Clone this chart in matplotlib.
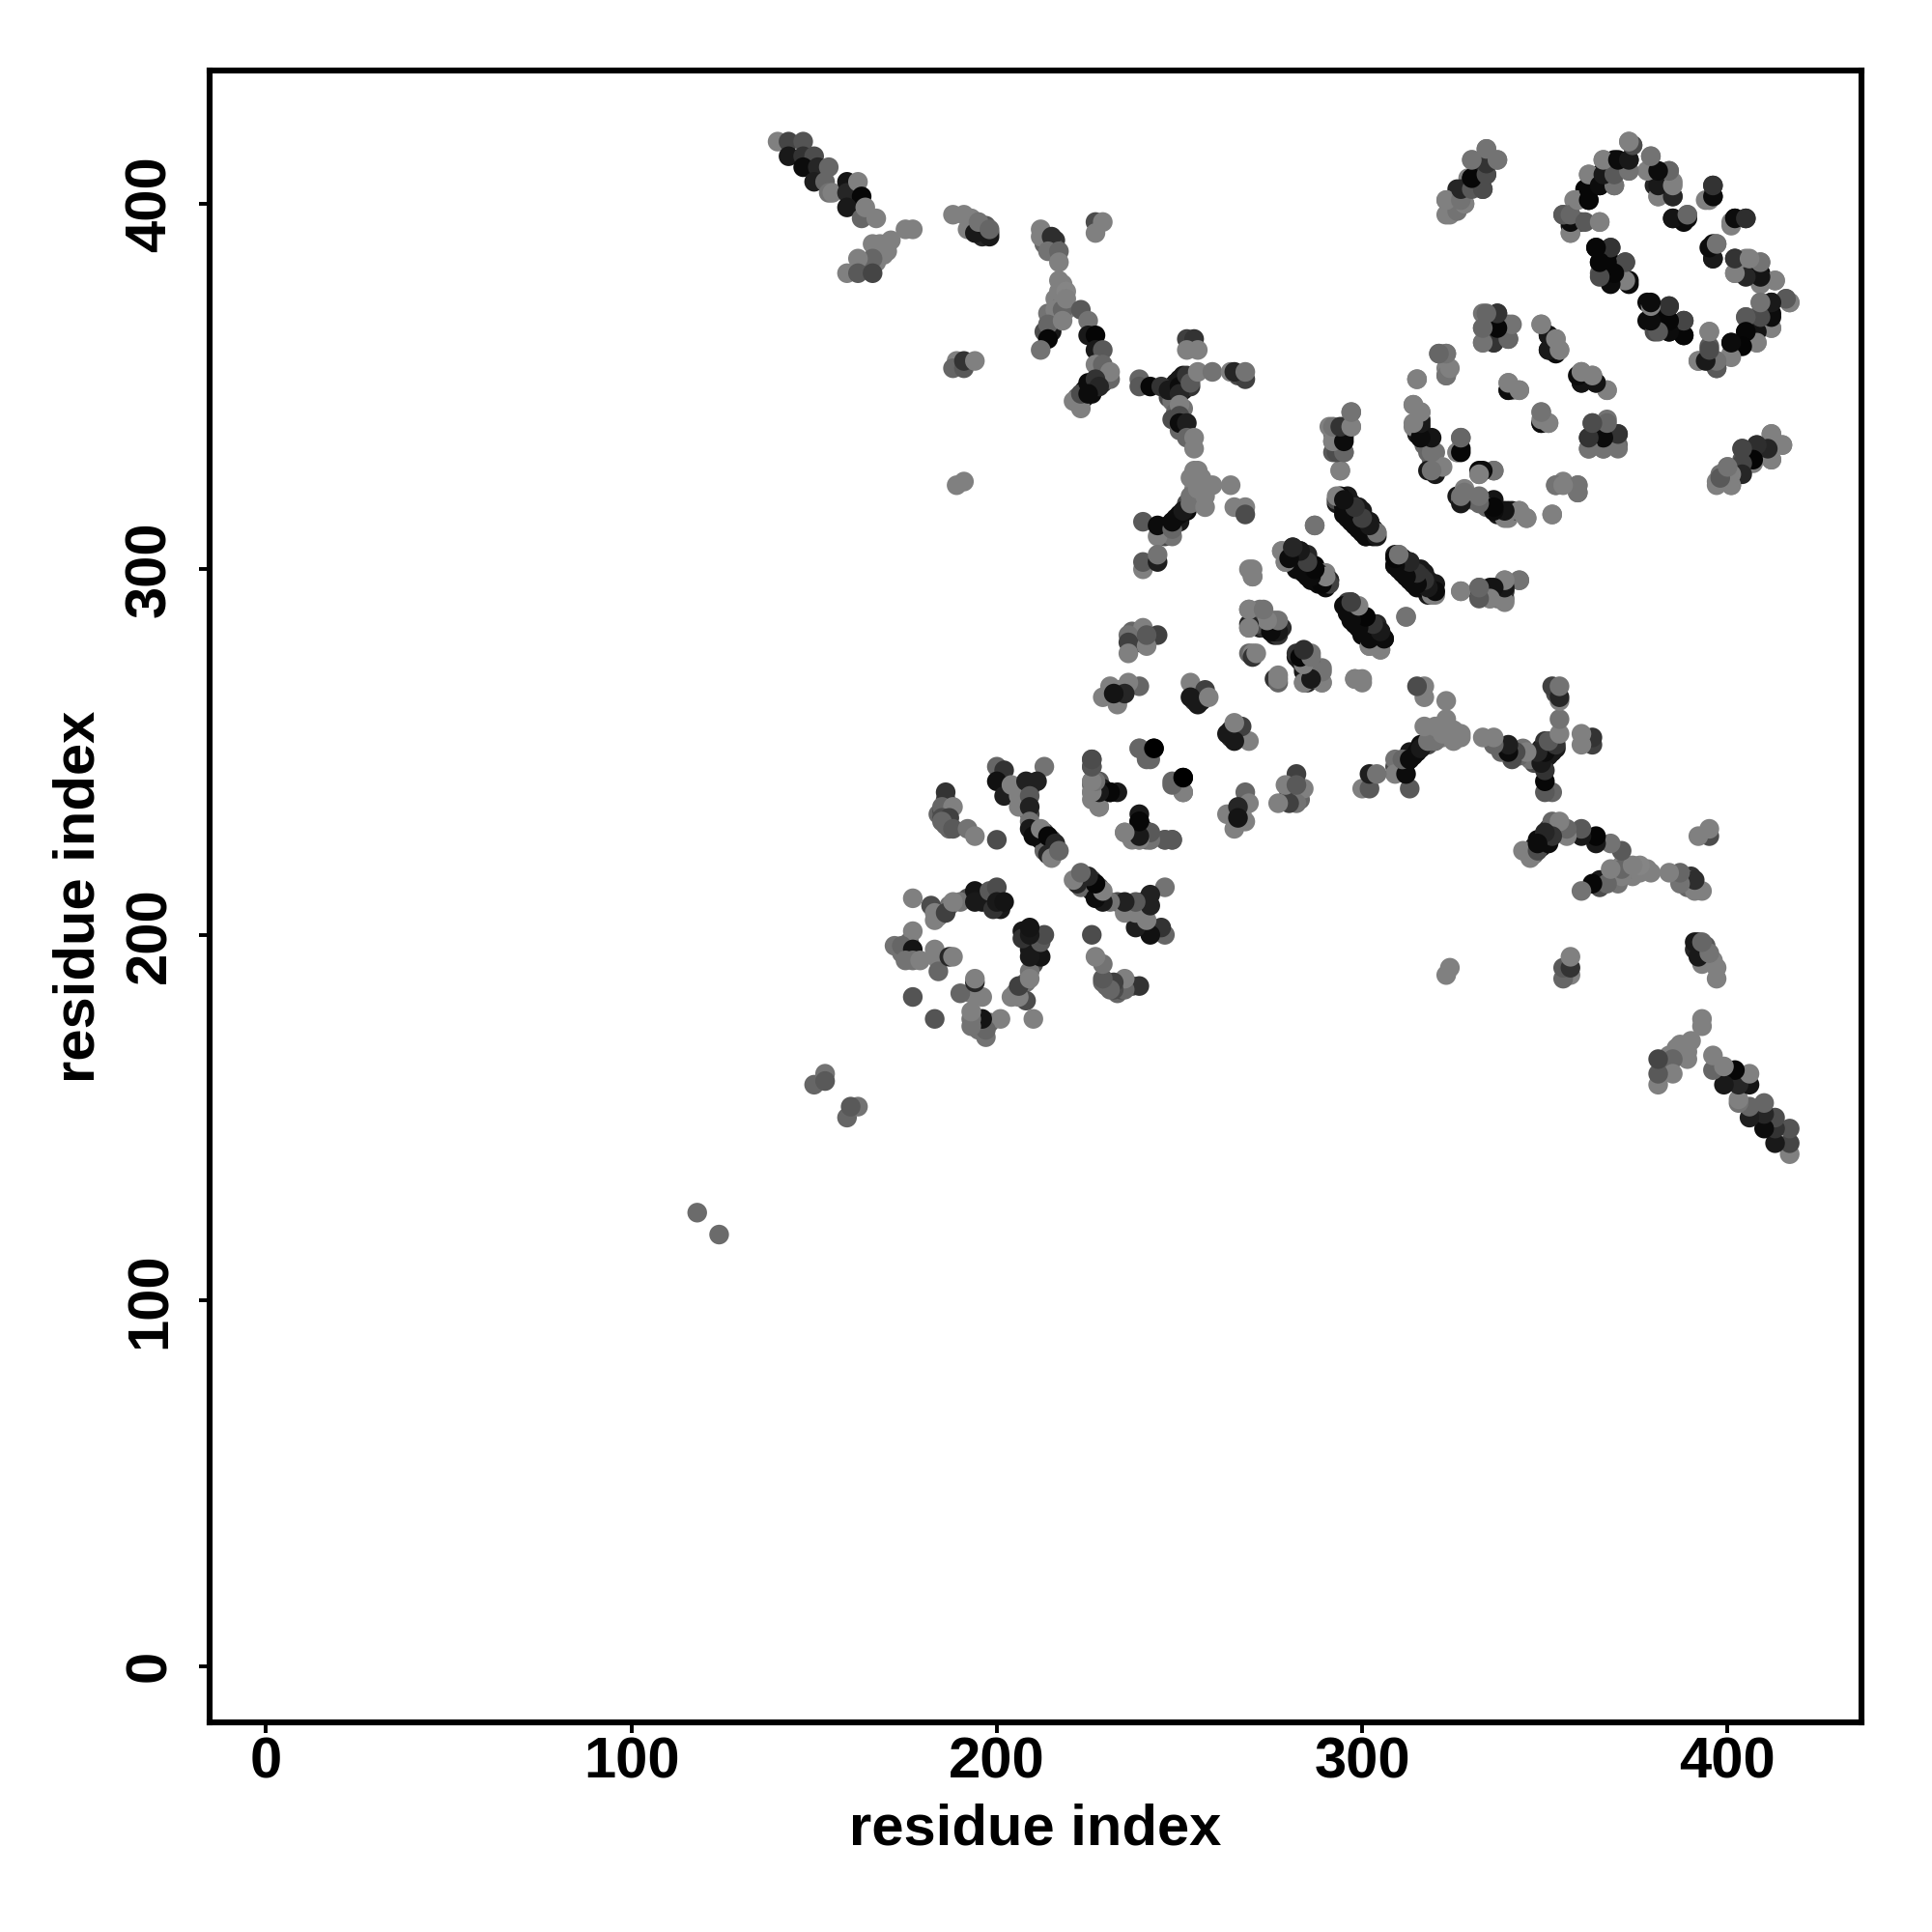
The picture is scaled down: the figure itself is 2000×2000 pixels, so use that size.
import numpy as np
import matplotlib
matplotlib.use("Agg")
import matplotlib.pyplot as plt

# contacts as (residue i, residue j, grey level), upper half of the map only
far_pairs = [(118,124,.42),(150,159,.4),(153,162,.45),(153,160,.35)]
# contacts mostly hidden under the others in the dense streaks
under_streaks = [(224,349,.05),(226,350,.1),(226,348,.05),(228,352,.1),(229,351,.2),(224,347,.1),(222,347,.4),(230,353,.3),
                 (247,347,.3),(248,350,.1),(249,351,.1),(251,353,.1),(251,349,.05),(252,351,.1),(253,350,.2),(248,346,.45),
                 (249,343,.4),(248,341,.3),(250,338,.4),(251,344,.45),(245,310,.1),(246,311,.05),(247,312,.05),(249,314,.08),
                 (250,313,.1),(252,316,.05),(252,318,.3),(254,319,.4),(254,322,.5),(246,309,.3),(248,309,.45),(253,320,.45),
                 (255,319,.5),(256,323,.5),(253,325,.5),(255,327,.5)]
under_helices = [(293,318,.1),(295,316,.05),(297,314,.05),(297,318,.15),(299,313,.05),(299,317,.1),(300,311,.05),(300,315,.1),
                 (301,313,.05),(303,311,.05),(302,310,.1),(296,320,.1),(298,316,.2),(280,303,.05),(280,305,.1),(282,304,.05),
                 (282,300,.05),(284,302,.05),(285,298,.05),(285,301,.1),(287,298,.05),(288,299,.05),(288,296,.05),(290,295,.05),
                 (283,302,.05),(310,300,.05),(311,299,.05),(311,303,.1),(313,300,.05),(313,302,.1),(315,298,.05),(316,296,.05),
                 (316,300,.1),(318,294,.1),(318,297,.1),(319,293,.3),(314,296,.1),(317,295,.05),(297,288,.05),(297,291,.15),
                 (299,285,.05),(299,288,.1),(301,285,.05),(302,281,.05),(303,283,.1),(304,281,.05),(304,279,.2),(304,285,.15),
                 (305,280,.1)]
under_blocks = [(198,209,.2),(199,211,.15),(201,207,.1),(196,211,.15),(192,210,.3),(196,209,.1),(184,205,.45),(187,208,.45),
                (183,204,.5),(190,209,.45),(177,195,.2),(175,195,.3),(176,198,.4),(174,195,.45),(209,233,.3),(209,240,.3),
                (210,229,.1),(211,228,.05),(212,226,.1),(213,225,.05),(215,224,.1),(215,226,.3),(213,228,.3),(213,223,.4),
                (184,233,.4),(186,230,.4),(186,233,.3),(187,229,.4),(186,237,.3),(185,234,.3),(227,241,.4),(226,237,.5),
                (240,229,.1),(239,233,.1),(241,226,.4),(237,280,.3),(238,281,.3),(237,283,.4),(239,280,.25),(234,267,.2),
                (233,265,.3),(254,266,.2),(255,266,.4),(256,264,.1),(254,264,.2),(233,267,.5),(266,353,.3)]
under_top = [(216,374,.5),(218,373,.45),(215,369,.45),(216,368,.5),(217,369,.4),(219,371,.5),(217,376,.5),(218,378,.5),
             (214,370,.45),(215,365,.1),(213,365,.3),(213,389,.4),(216,390,.2),(215,389,.45),(193,396,.5),(194,394,.3),
             (196,392,.3),(197,394,.35),(196,391,.15),(198,392,.2),(270,287,.4),(271,285,.4),(272,284,.1),(274,286,.4),
             (275,283,.2),(276,282,.1),(277,282,.2),(284,273,.2),(285,271,.3),(286,270,.3),(288,271,.45),(287,271,.4),
             (292,337,.45),(293,338,.4),(294,334,.3),(293,332,.2),(294,337,.1),(167,388,.5),(168,389,.5),(170,387,.5),
             (165,383,.4),(167,384,.5),(315,337,.1),(316,341,.1),(317,334,.4),(319,330,.4),(319,328,.2)]
strand_a = [(140,417,.5),(143,417,.27),(147,417,.33),(143,413,.1),(147,413,.2),(150,413,.3),(147,410,.05),(151,410,.15),
            (154,410,.4),(150,406,.12),(153,406,.4),(154,403,.45),(155,403,.5),(159,406,.08),(159,403,.15),(162,406,.5),
            (163,402,.03),(159,399,.1),(163,396,.4),(164,399,.5),(167,396,.5),(175,393,.5),(177,393,.5)]
strand_b = [(171,390,.5),(169,386,.5),(166,389,.5),(166,385,.4),(162,385,.5),(159,381,.5),(162,381,.35),(166,381,.27)]
cluster_d = [(188,397,.5),(191,397,.5),(192,393,.5),(194,392,.1),(195,395,.45),(198,391,.1),(198,393,.4),(189,357,.5),
             (188,355,.4),(191,355,.35),(191,357,.2),(194,357,.5),(189,323,.5),(191,324,.5)]
cluster_e = [(212,393,.5),(212,391,.5),(215,391,.18),(214,387,.45),(217,387,.4),(217,384,.5),(217,379,.5),(216,371,.5),
             (218,371,.4),(214,367,.4),(214,363,.03),(212,360,.45),(218,368,.5),(219,376,.52),(219,374,.5)]
cluster_f = [(223,371,.35),(225,368,.45),(225,364,.1),(227,364,.02),(227,360,.1),(229,360,.35),(227,356,.5),(229,356,.4),
             (231,352,.4),(231,354,.5),(221,346,.5),(223,344,.5),(223,348,.3),(225,351,.05),(227,352,.2),(228,350,.15),
             (225,348,.05),(227,395,.3),(227,392,.5),(229,395,.5)]
cluster_j = [(239,352,.4),(239,350,.35),(242,350,.03),(245,350,.2),(247,349,.1),(250,352,.1),(250,350,.05),(250,348,.15),
             (252,353,.2),(253,351,.35),(255,354,.5),(259,354,.45),(252,363,.25),(254,363,.2),(252,360,.5),(255,360,.5),
             (250,345,.5),(250,342,.3),(250,340,.05),(252,340,.12),(252,336,.4),(254,336,.5),(254,333,.5),
             (264,354,.5),(268,352,.25),(265,354,.15),(268,354,.45)]
cluster_l = [(240,313,.35),(244,309,.5),(244,312,.05),(248,311,.4),(248,313,.05),(250,315,.05),(251,316,.1),(253,318,.45),
             (254,327,.5),(256,325,.5),(259,323,.5),(264,323,.5),(255,322,.5),(257,320,.5),(257,317,.5),(265,317,.5),
             (268,317,.5),(268,315,.3),(240,300,.5),(240,302,.35),(244,302,.12),(244,304,.45)]
cluster_m = [(240,284,.5),(244,282,.25),(236,282,.45),(236,280,.25),(241,279,.5),(241,282,.35),(236,277,.5),(239,268,.4),
             (236,269,.5),(231,268,.5),(229,265,.5),(233,263,.5),(235,266,.15),(232,266,.08),(253,269,.5),(257,267,.25),
             (253,265,.1),(255,263,.1),(258,265,.5)]
helix_295 = [(294,327,.5),(297,343,.45),(291,339,.5),(295,339,.1),(297,339,.5),(295,336,.08),(292,335,.5),(292,332,.35),(295,332,.4),
             (293,319,.5),(294,320,.05),(295,318,.1),(297,317,.2),(296,315,.05),(299,315,.2),(298,312,.05),(302,313,.15),
             (301,309,.05),(303,309,.03),(304,310,.45),(287,312,.45)]
helix_281 = [(278,305,.5),(279,302,.5),(281,306,.05),(281,302,.05),(283,305,.1),(285,303,.2),(284,299,.05),(287,301,.02),
             (286,297,.05),(289,296,.05),(290,299,.5),(291,297,.25)]
helix_310 = [(309,301,.05),(309,304,.1),(310,304,.45),(312,302,.1),(313,297,.05),(314,300,.25),(315,295,.05),(317,298,.2),
             (320,293,.5),(319,295,.07)]
helix_296 = [(296,291,.25),(296,289,.03),(298,290,.5),(298,286,.05),(300,287,.03),(301,283,.05),(302,285,.25),(305,283,.1),
             (302,279,.5),(305,278,.5),(303,280,.05),(306,281,.15),(312,287,.45)]
cluster_269 = [(269,300,.5),(270,298,.5),(269,289,.5),(272,289,.45),(269,284,.5),(270,286,.1),(274,284,.5),(276,283,.03),
               (276,286,.45),(278,284,.18),(269,277,.4),(270,277,.5),(283,277,.1),(283,275,.05),(286,277,.45),(286,274,.5),
               (285,269,.15),(284,269,.5),(289,269,.5),(289,273,.45),(276,270,.2),(277,271,.5),(298,270,.5),(300,270,.5)]
ring_a = [(315,352,.5),(321,359,.45),(323,359,.45),(323,353,.45),(323,355,.5),(314,345,.5),(316,343,.5),(314,339,.5),
          (316,339,.08),(316,336,.05),(317,336,.03),(318,332,.4),(320,332,.45),(318,327,.1),(320,327,.45),(321,328,.45),
          (327,336,.45),(327,333,.05),(326,332,.5),(332,326,.5),(332,327,.03),(336,327,.4),(326,320,.1),(328,322,.5),
          (327,319,.45),(332,319,.45),(336,319,.08),(336,316,.05),(340,316,.1),(340,314,.5),(343,316,.5),(345,314,.5),
          (352,315,.5),(353,323,.45),(355,324,.5),(359,323,.45),(359,321,.4)]
ring_b = [(333,370,.45),(337,370,.2),(333,366,.45),(336,366,.05),(340,367,.4),(333,362,.45),(336,362,.2),(340,363,.3),
          (349,367,.5),(351,364,.08),(351,360,.08),(353,359,.05),(353,363,.5),(354,360,.5),(360,351,.1),(360,354,.5),
          (364,351,.1),(363,353,.5),(367,349,.5),(340,349,.05),(340,351,.5),(341,349,.5),(343,349,.45),(349,340,.05),
          (349,343,.5),(351,340,.5),(362,336,.2),(363,340,.4),(367,341,.45),(362,333,.45),(366,337,.03),(370,337,.2),
          (366,333,.4),(370,334,.4),(327,294,.5),(332,293,.3),(332,295,.4),(335,292,.5),(335,295,.05),(339,292,.45),
          (339,294,.2),(339,297,.5),(343,297,.45)]
cluster_323 = [(334,415,.5),(337,412,.5),(330,412,.5),(333,411,.15),(334,408,.18),(329,407,.5),(330,407,.02),(333,404,.27),
               (329,404,.27),(326,404,.15),(323,401,.5),(326,401,.5),(323,397,.5),(325,398,.35),(328,400,.45)]
ring_top = [(373,417,.5),(374,416,.35),(379,413,.5),(366,412,.5),(369,412,.05),(373,412,.1),(365,408,.08),(362,408,.5),
            (369,409,.3),(373,409,.45),(369,405,.35),(365,405,.03),(361,404,.02),(358,401,.5),(362,401,.05),(379,409,.5),
            (380,409,.08),(384,409,.45),(380,405,.15),(381,402,.5),(385,402,.2),(385,406,.5),(394,401,.5),(396,402,.05),
            (396,405,.18),(385,396,.1),(388,395,.05),(389,397,.45),(401,395,.5),(402,396,.05),(405,396,.2),(355,397,.35),
            (357,397,.45),(357,392,.5),(357,394,.1),(360,395,.3),(365,395,.5)]
ring_mid = [(364,388,.03),(368,388,.27),(365,384,.05),(368,384,.03),(372,384,.2),(365,381,.35),(368,379,.05),(372,379,.5),
            (373,379,.05),(396,385,.08),(396,389,.05),(397,389,.4),(402,381,.5),(402,385,.15),(405,381,.1),(405,385,.5),
            (409,384,.4),(409,378,.5),(409,381,.05),(413,379,.45)]
ring_low = [(378,373,.05),(379,372,.5),(384,372,.3),(378,368,.05),(381,369,.03),(384,367,.03),(388,368,.2),(380,365,.3),
            (384,365,.03),(388,364,.03),(392,357,.5),(395,357,.05),(397,355,.35),(397,357,.4),(395,361,.35),(395,365,.5),
            (401,359,.5),(401,362,.03),(404,362,.03),(408,362,.5),(405,365,.05),(405,369,.45),(408,366,.1),(408,369,.35),
            (409,373,.45),(412,366,.5),(412,370,.05),(412,373,.1),(416,374,.3),(417,373,.5)]
cluster_400 = [(397,324,.5),(398,326,.45),(401,323,.5),(400,328,.5),(401,327,.45),(404,327,.15),(404,330,.35),(404,333,.3),
               (407,330,.03),(408,334,.3),(411,334,.2),(412,330,.45),(412,337,.45),(415,334,.45)]
ring_200 = [(177,210,.5),(182,208,.3),(183,206,.5),(186,206,.25),(188,209,.5),(194,212,.08),(194,209,.1),(198,212,.35),
            (200,213,.3),(199,207,.2),(200,209,.1),(202,209,.08),(177,201,.5),(172,197,.45),(174,197,.4),(177,196,.08),
            (175,193,.45),(177,193,.45),(179,193,.5),(183,196,.5),(184,193,.5),(184,190,.4),(187,194,.15),(188,194,.5),
            (177,183,.33)]
block_235 = [(186,239,.2),(185,235,.4),(188,235,.5),(185,232,.3),(187,232,.25),(185,231,.4),(188,229,.35),(192,229,.45),
             (194,227,.5),(200,226,.3),(200,246,.4),(202,245,.2),(200,242,.07),(202,238,.12),(204,241,.5),(206,238,.5),
             (206,235,.5),(213,246,.45),(208,242,.13),(211,242,.13),(209,238,.35),(209,235,.13),(209,231,.45),(209,229,.1),
             (210,227,.05),(212,229,.5),(214,227,.03),(216,225,.15),(214,222,.15),(215,221,.5),(217,223,.4)]
block_226 = [(226,248,.35),(226,246,.35),(226,242,.45),(228,242,.35),(226,239,.5),(227,239,.1),(231,239,.03),(228,235,.5),
             (239,251,.5),(241,248,.4),(243,251,.0),(248,242,.4),(251,239,.4),(251,243,.0),(235,228,.5),(239,231,.03),
             (239,228,.1),(239,226,.5),(242,227,.45),(242,226,.5),(246,226,.33),(248,226,.3)]

x_ticks = [0, 100, 200, 300, 400]
y_ticks = [0, 100, 200, 300, 400]

contacts = np.array(far_pairs + under_streaks + under_helices + under_blocks + under_top
                    + strand_a + strand_b + cluster_d + cluster_e + cluster_f + cluster_j + cluster_l
                    + cluster_m + helix_295 + helix_281 + helix_310 + helix_296 + cluster_269 + ring_a + ring_b
                    + cluster_323 + ring_top + ring_mid + ring_low + cluster_400 + ring_200 + block_235 + block_226)

plt.rcParams['font.family'] = ['Liberation Sans', 'DejaVu Sans']
plt.rcParams['font.weight'] = 'bold'

fig = plt.figure(figsize=(20, 20), dpi=100)
ax = fig.add_axes([0.1084, 0.1084, 0.8552, 0.8552])

# the map is symmetric, so every contact goes in twice
xs = np.concatenate([contacts[:, 0], contacts[:, 1]])
ys = np.concatenate([contacts[:, 1], contacts[:, 0]])
greys = np.concatenate([contacts[:, 2], contacts[:, 2]])
ax.scatter(xs, ys, c=greys, cmap='gray', vmin=0, vmax=1, s=215, linewidths=0)

ax.set_xlim(-15.5, 436.7)
ax.set_ylim(-15.5, 436.5)
ax.set_xticks(x_ticks)
ax.set_yticks(y_ticks)
ax.tick_params(axis='x', length=8, width=2.8, labelsize=43, pad=2)
ax.tick_params(axis='y', length=8, width=2.8, labelsize=43, pad=16)
plt.setp(ax.get_yticklabels(), rotation=90, va='center')
for spine in ax.spines.values():
    spine.set_linewidth(4.4)

ax.set_xlabel("residue index", fontsize=43, fontweight='bold', va='center')
ax.set_ylabel("residue index", fontsize=43, fontweight='bold', va='center')
ax.xaxis.set_label_coords(0.5, -0.0645)
ax.yaxis.set_label_coords(-0.0790, 0.5)

fig.savefig("out.png", dpi=100, facecolor='white')
